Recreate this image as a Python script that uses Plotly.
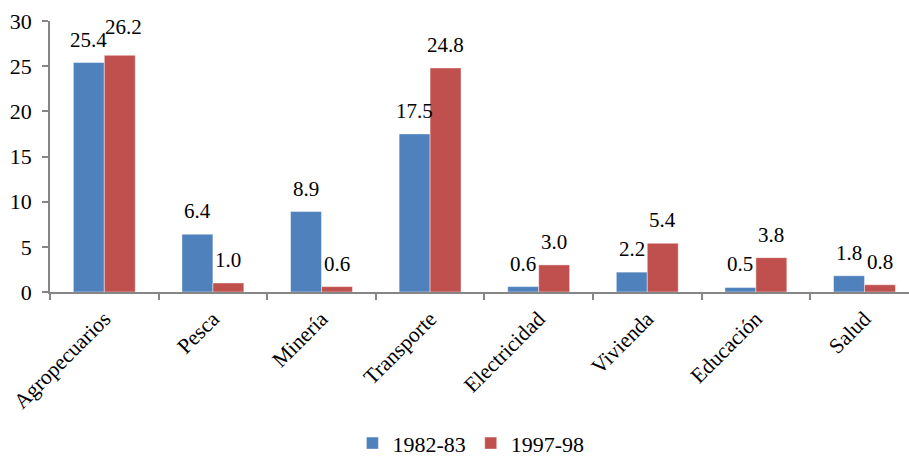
import plotly.graph_objects as go

# Sector shares (%) for two periods
categories = ["Agropecuarios", "Pesca", "Minería", "Transporte",
              "Electricidad", "Vivienda", "Educación", "Salud"]
series_names = ["1982-83", "1997-98"]
values_1982 = [25.4, 6.4, 8.9, 17.5, 0.6, 2.2, 0.5, 1.8]
values_1997 = [26.2, 1.0, 0.6, 24.8, 3.0, 5.4, 3.8, 0.8]
y_ticks = [0, 5, 10, 15, 20, 25, 30]

colors = ["#4F81BD", "#C0504D"]
serif = "Liberation Serif"

W, H = 909, 457
margin = dict(l=50, r=0, t=21, b=165)
x_range = [-0.5, 7.41]
bargap = 0.43

# extra (dx, dy) pixel nudges for labels that would otherwise collide
label_nudge = {(1, "Agropecuarios"): (4, 5)}

fig = go.Figure()
for name, vals, col in zip(series_names, [values_1982, values_1997], colors):
    fig.add_trace(go.Bar(
        x=categories, y=vals, name=name,
        marker=dict(color=col, line=dict(color="rgba(255,255,255,0.55)", width=0.8)),
    ))

# data labels centred above each bar
plot_w = W - margin["l"] - margin["r"]
px_per_cat = plot_w / (x_range[1] - x_range[0])
bar_px = px_per_cat * (1 - bargap) / 2
for k, vals in enumerate([values_1982, values_1997]):
    shift = (k - 0.5) * bar_px
    for cat, v in zip(categories, vals):
        dx, dy = label_nudge.get((k, cat), (0, 0))
        fig.add_annotation(
            x=cat, y=v, xref="x", yref="y", text=f"{v:.1f}",
            showarrow=False, xshift=shift + dx, yshift=23 + dy, yanchor="middle",
            font=dict(family=serif, size=21, color="black"),
        )

fig.update_layout(
    width=W, height=H, margin=margin,
    paper_bgcolor="white", plot_bgcolor="white",
    barmode="group", bargap=bargap, bargroupgap=0,
    legend=dict(
        orientation="h", xanchor="center", x=0.49, yanchor="middle",
        yref="container", y=0.03,
        font=dict(family=serif, size=22, color="black"),
        itemwidth=30,
    ),
)
fig.update_xaxes(
    range=x_range, showline=True, linecolor="#868686", linewidth=1.5,
    ticks="outside", tickson="boundaries", ticklen=6, tickcolor="#868686",
    tickwidth=1.5, tickangle=-45, showgrid=False, automargin=False,
    tickfont=dict(family=serif, size=21.5, color="black"),
    ticklabelstandoff=4,
)
fig.update_yaxes(
    range=[0, 30], tickvals=y_ticks, showline=True, linecolor="#868686",
    linewidth=1.5, ticks="outside", ticklen=6, tickcolor="#868686",
    tickwidth=1.5, showgrid=False, zeroline=False, automargin=False,
    tickfont=dict(family=serif, size=22, color="black"),
    ticklabelstandoff=6,
)

fig.write_html("out.html")
